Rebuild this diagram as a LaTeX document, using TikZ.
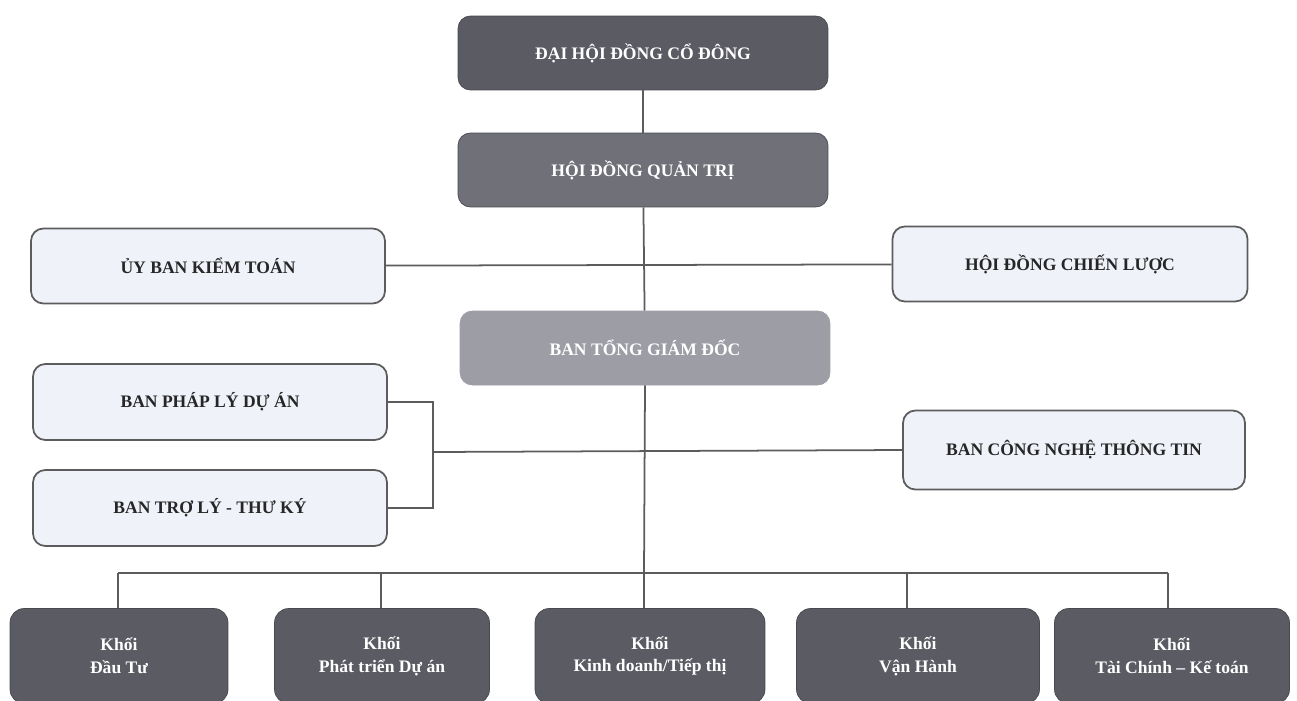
\documentclass[tikz,border=0pt]{standalone}
\usepackage{fontspec}
\setmainfont{Liberation Serif}
\usetikzlibrary{calc}

\definecolor{boxdark}{HTML}{5A5B63}
\definecolor{boxmid}{HTML}{6F7078}
\definecolor{boxlight}{HTML}{9C9DA5}
\definecolor{boxpale}{HTML}{F0F2FA}
\definecolor{linegray}{HTML}{5C5C5C}

\tikzset{
  darkbox/.style={draw=boxdark!80!black,fill=boxdark,text=white,rounded corners=7pt,
    minimum width=7.4cm,minimum height=1.48cm,font=\bfseries\fontsize{10}{12}\selectfont},
  palebox/.style={draw=linegray,line width=1pt,fill=boxpale,text=black!85,rounded corners=7pt,
    minimum width=7.08cm,minimum height=1.5cm,font=\bfseries\fontsize{10}{12}\selectfont},
  khoibox/.style={draw=boxdark!80!black,fill=boxdark,text=white,rounded corners=8pt,
    minimum height=1.9cm,align=center,font=\bfseries\fontsize{10}{13}\selectfont},
  link/.style={draw=linegray,line width=1pt}
}

\begin{document}
\begin{tikzpicture}[x=0.02cm,y=-0.02cm]
      \useasboundingbox (0,0) rectangle (1297,700);
      % upper levels
      \node[darkbox] (dhcd) at (643,53) {ĐẠI HỘI ĐỒNG CỔ ĐÔNG};
      \node[darkbox,fill=boxmid] (hdqt) at (643,170) {HỘI ĐỒNG QUẢN TRỊ};
      \node[darkbox,fill=boxlight,draw=boxlight] (btgd) at (645,348) {BAN TỔNG GIÁM ĐỐC};
      \node[palebox] (ubkt) at (208,266) {ỦY BAN KIỂM TOÁN};
      \node[palebox,minimum width=7.1cm] (hdcl) at (1070,264) {HỘI ĐỒNG CHIẾN LƯỢC};
      \node[palebox,minimum height=1.52cm] (bpl) at (210,402) {BAN PHÁP LÝ DỰ ÁN};
      \node[palebox,minimum height=1.52cm] (btl) at (210,508) {BAN TRỢ LÝ - THƯ KÝ};
      \node[palebox,minimum width=6.84cm,minimum height=1.58cm] (bcntt) at (1074,450) {BAN CÔNG NGHỆ THÔNG TIN};

      % khoi
      \foreach \n/\x/\w/\txt in {k1/119/4.36/{Đầu Tư}, k2/382/4.3/{Phát triển Dự án},
          k3/650/4.6/{Kinh doanh/Tiếp thị}, k4/918/4.86/{Vận Hành}, k5/1172/4.7/{Tài Chính – Kế toán}} {
        \node[khoibox,minimum width=\w cm] (\n) at (\x,656) {Khối\\\txt};
      }

      \coordinate (bus) at (644,573);
      \coordinate (brk) at (433,452);

      \draw[link] (dhcd) -- (hdqt);
      \draw[link] (hdqt) -- (btgd);
      \draw[link] (ubkt) -- (hdcl);
      \draw[link] (btgd.south) -- (bus);
      \draw[link] (bpl.east) -- (bpl.east -| brk) -- (btl.east -| brk) -- (btl.east);
      \draw[link] (brk) -- (bcntt.west);
      \draw[link] (118,573) -- (1168,573);
      \foreach \n/\x in {k1/118,k2/381,k3/644,k4/907,k5/1168} {
        \draw[link] (\x,573) -- (\x,0 |- \n.north);
      }
\end{tikzpicture}
\end{document}
